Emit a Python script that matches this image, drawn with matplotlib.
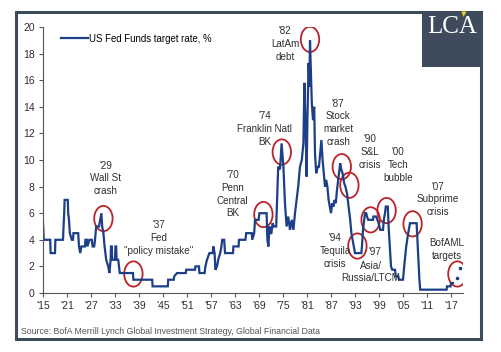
import matplotlib
matplotlib.use("Agg")
import matplotlib.pyplot as plt
from matplotlib.patches import Ellipse, Rectangle, Polygon
from matplotlib import font_manager

# --- data (year, target rate %) ---
years = [1915.0, 1915.2, 1916.8, 1916.9, 1918.0, 1918.1, 1920.0, 1920.1, 1920.3, 1920.4,
         1921.2, 1921.3, 1921.5, 1921.7, 1922.2, 1922.5, 1922.6, 1923.8, 1924.0, 1924.3,
         1924.6, 1925.5, 1925.6, 1926.0, 1926.1, 1926.6, 1927.2, 1927.4, 1927.8, 1928.0,
         1928.3, 1929.0, 1929.6, 1929.8, 1930.1, 1930.4, 1930.8, 1931.3, 1931.6, 1931.9,
         1932.0, 1932.2, 1932.3, 1933.0, 1933.1, 1933.3, 1933.4, 1933.8, 1934.0, 1934.2,
         1937.5, 1937.6, 1942.3, 1942.4, 1946.2, 1946.3, 1947.7, 1947.8, 1948.5, 1950.7,
         1950.8, 1953.0, 1953.1, 1954.0, 1954.1, 1955.4, 1955.6, 1956.0, 1956.6, 1957.4,
         1957.6, 1957.9, 1958.1, 1958.5, 1958.8, 1959.3, 1959.6, 1959.8, 1960.3, 1960.5,
         1962.5, 1962.6, 1963.9, 1964.0, 1965.6, 1965.8, 1967.2, 1967.3, 1967.8, 1968.0,
         1968.9, 1969.1, 1970.9, 1971.1, 1971.35, 1971.6, 1971.8, 1972.1, 1972.4, 1972.7,
         1973.3, 1973.8, 1974.25, 1974.65, 1975.1, 1975.5, 1975.9, 1976.3, 1976.75, 1977.2,
         1977.6, 1978.0, 1978.8, 1979.25, 1979.7, 1980.1, 1980.35, 1980.6, 1980.9, 1981.1,
         1981.4, 1981.6, 1981.75, 1981.9, 1982.2, 1982.5, 1982.8, 1983.0, 1983.3, 1983.7,
         1984.0, 1984.3, 1984.6, 1984.9, 1985.2, 1985.5, 1985.8, 1986.1, 1986.4, 1986.7,
         1987.0, 1987.3, 1987.6, 1987.9, 1988.2, 1988.5, 1988.8, 1989.1, 1989.3, 1989.6,
         1989.9, 1990.3, 1990.6, 1991.0, 1991.4, 1991.8, 1992.1, 1992.4, 1992.7, 1993.0,
         1994.6, 1994.8, 1995.0, 1995.3, 1995.5, 1995.8, 1996.0, 1996.3, 1997.5, 1997.6,
         1998.3, 1998.6, 1998.9, 1999.3, 2000.0, 2000.2, 2000.5, 2000.7, 2001.2, 2001.4,
         2001.7, 2002.0, 2002.3, 2003.0, 2003.2, 2003.8, 2004.0, 2005.0, 2005.3, 2005.8,
         2006.3, 2006.75, 2008.4, 2008.6, 2008.9, 2009.1, 2009.3, 2015.9, 2016.0, 2016.9,
         2017.0, 2017.5]
rates = [5.3, 4.0, 4.0, 3.0, 3.0, 4.0, 4.0, 4.75, 6.0, 7.0,
         7.0, 6.0, 5.5, 4.5, 4.0, 4.0, 4.5, 4.5, 3.5, 3.0,
         3.5, 3.5, 4.0, 4.0, 3.5, 4.0, 4.0, 3.5, 3.5, 4.0,
         5.0, 5.0, 6.0, 5.0, 4.5, 3.5, 2.5, 2.0, 1.5, 2.5,
         3.5, 3.5, 2.5, 2.5, 3.5, 3.5, 2.5, 2.5, 2.0, 1.5,
         1.5, 1.0, 1.0, 0.5, 0.5, 1.0, 1.0, 1.25, 1.5, 1.5,
         1.75, 1.75, 2.0, 2.0, 1.5, 1.5, 2.0, 2.5, 3.0, 3.0,
         3.5, 3.0, 1.75, 2.0, 2.5, 3.0, 3.5, 4.0, 4.0, 3.0,
         3.0, 3.5, 3.5, 4.0, 4.0, 4.5, 4.5, 4.0, 4.5, 5.5,
         5.5, 6.0, 6.0, 4.0, 3.5, 5.0, 4.5, 4.5, 5.25, 5.0,
         5.0, 9.5, 9.3, 11.25, 9.5, 6.7, 5.0, 5.75, 4.75, 5.5,
         4.75, 6.0, 8.0, 9.5, 10.0, 11.25, 15.8, 13.0, 8.75, 13.0,
         17.3, 15.5, 19.0, 17.5, 14.3, 13.0, 14.0, 10.5, 9.0, 9.5,
         9.5, 10.5, 11.5, 10.0, 9.0, 8.0, 8.5, 8.0, 7.0, 6.5,
         6.0, 6.75, 6.5, 7.0, 6.75, 7.75, 8.5, 9.25, 9.75, 9.25,
         9.0, 8.25, 8.0, 7.5, 6.5, 5.5, 4.5, 4.0, 3.5, 3.0,
         3.0, 3.75, 4.75, 5.5, 6.0, 6.0, 5.75, 5.5, 5.5, 5.75,
         5.75, 5.5, 5.25, 4.75, 4.75, 5.5, 6.0, 6.5, 6.5, 5.0,
         3.5, 2.0, 1.75, 1.75, 1.25, 1.25, 1.0, 1.0, 2.0, 3.5,
         4.5, 5.25, 5.25, 4.0, 2.0, 1.0, 0.25, 0.25, 0.5, 0.5,
         0.75, 0.75]

target_years = [2018.4, 2019.25]
target_rates = [1.1, 1.85]

events = ["'29\nWall St\ncrash", "'37\nFed\n\"policy mistake\"", "'70\nPenn\nCentral\nBK",
          "'74\nFranklin Natl\nBK", "'82\nLatAm\ndebt", "'87\nStock\nmarket\ncrash",
          "'90\nS&L\ncrisis", "'00\nTech\nbubble", "'07\nSubprime\ncrisis",
          "'94\nTequila\ncrisis", "'97", "Asia/\nRussia/LTCM", "BofAML\ntargets"]
event_label_x = [1930.75, 1944.0, 1962.4, 1970.5, 1975.5, 1988.8, 1996.75, 2003.8, 2013.8,
                 1988.0, 1998.0, 1996.9, 2016.0]
event_label_y = [8.62, 4.13, 7.43, 12.33, 18.72, 12.8, 10.6, 9.62, 7.05, 3.16, 3.1, 1.58,
                 3.26]

circle_x = [1930.1, 1937.6, 1970.1, 1974.7, 1981.75, 1989.7, 1991.6, 1993.6, 1996.9,
            2000.9, 2007.4, 2018.6]
circle_y = [5.6, 1.43, 5.9, 10.6, 19.07, 9.5, 8.1, 3.53, 5.5, 6.2, 5.2, 1.43]

tick_years = list(range(1915, 2018, 6))
tick_labels = ["'%02d" % (y % 100) for y in tick_years]

NAVY = "#1c3f87"
RED = "#b8242c"
SLATE = "#3d4b5d"
TXT = "#2e2e2e"

names = {f.name for f in font_manager.fontManager.ttflist}
SANS = ["Liberation Sans Narrow", "Liberation Sans"] if "Liberation Sans Narrow" in names \
    else ["Liberation Sans"]
plt.rcParams["font.family"] = SANS + ["DejaVu Sans"]

W, H = 502, 352
fig = plt.figure(figsize=(W / 100, H / 100), dpi=100)
ax = fig.add_axes([43 / W, 1 - 293 / H, 420 / W, 266 / H])

ax.plot(years, rates, color=NAVY, lw=1.6, solid_joinstyle="miter",
        label="US Fed Funds target rate, %")
ax.plot(target_years, target_rates, "o", color=NAVY, ms=1.6)

for cx, cy in zip(circle_x, circle_y):
    ax.add_patch(Ellipse((cx, cy), 4.6, 1.9, fill=False, ec=RED, lw=1.3))

for s, tx, ty in zip(events, event_label_x, event_label_y):
    ax.text(tx, ty, s, ha="center", va="center", fontsize=7.1, color=TXT, linespacing=1.33)

ax.set_xlim(1915, 2020)
ax.set_ylim(0, 20)
ax.set_xticks(tick_years)
ax.set_xticklabels(tick_labels)
ax.set_yticks(range(0, 21, 2))
for s in ("top", "right"):
    ax.spines[s].set_visible(False)
for s in ("left", "bottom"):
    ax.spines[s].set_color("#555555")
    ax.spines[s].set_linewidth(0.8)
ax.tick_params(direction="out", length=3, width=0.8, color="#555555", labelcolor=TXT,
               labelsize=7.5, pad=3)

ax.legend(loc="upper left", bbox_to_anchor=(0.043, 0.975), frameon=False, fontsize=6.9,
          handlelength=2.8, handletextpad=0.15, borderpad=0, borderaxespad=0)

fig.text(21 / W, 1 - 332 / H,
         "Source: BofA Merrill Lynch Global Investment Strategy, Global Financial Data",
         fontsize=6.3, color="#555555", va="center", ha="left")

# frame and logo
fig.add_artist(Rectangle((16.5 / W, 1 - 338.5 / H), 465 / W, 327 / H, transform=fig.transFigure,
                         fill=False, ec=SLATE, lw=2.2))
fig.add_artist(Rectangle((421.7 / W, 1 - 66.7 / H), 59.8 / W, 55.2 / H, transform=fig.transFigure,
                         fc=SLATE, ec="none"))
fig.text(452.5 / W, 1 - 27 / H, "LCA", family="Liberation Serif", fontsize=18, color="white",
         ha="center", va="center")
fig.add_artist(Polygon([(461.5 / W, 1 - 11.5 / H), (466.5 / W, 1 - 11.5 / H),
                        (463.5 / W, 1 - 17 / H)], closed=True, transform=fig.transFigure,
                       fc="#f2d21a", ec="none"))

fig.savefig("out.png", dpi=100)
